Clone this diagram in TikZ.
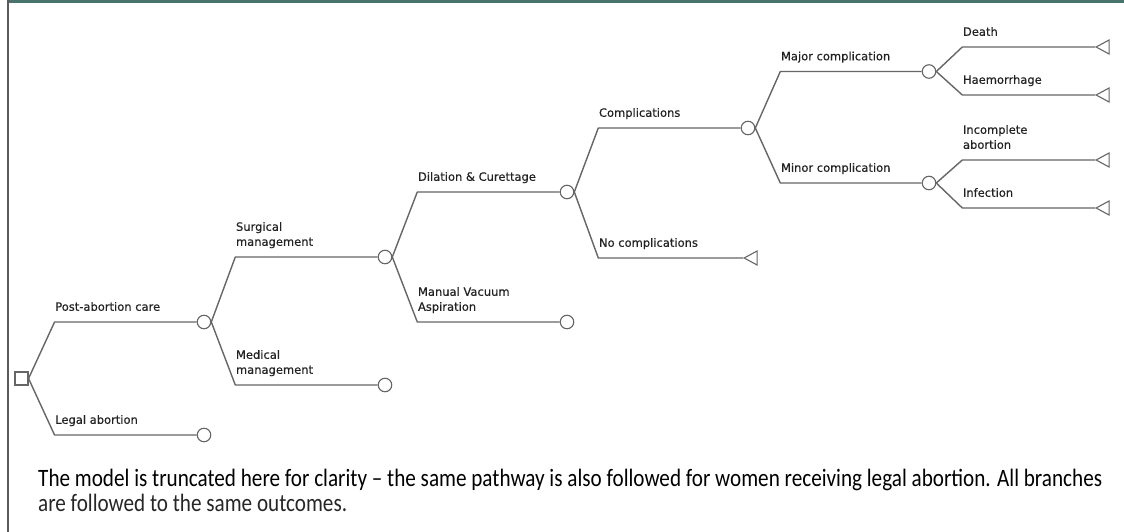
\documentclass[tikz,border=0pt]{standalone}
\usepackage{fontspec}
\setmainfont{DejaVu Sans}
\newfontfamily\capfont{Carlito}
\newfontfamily\labelfont{DejaVu Sans}[FakeBold=0.35]
\usetikzlibrary{shapes.geometric,calc}
\definecolor{linegray}{HTML}{666666}
\definecolor{labelgray}{HTML}{222222}
\definecolor{capgray}{HTML}{262626}
\definecolor{barteal}{RGB}{72,116,108}
\definecolor{framegray}{HTML}{5A5A5A}
\newsavebox\capboxA
\newcommand{\capfontsize}{\capfont\fontsize{25}{25}\selectfont}
\AtBeginDocument{%
  \sbox\capboxA{\capfontsize The model is truncated here for clarity – the same pathway is also followed for women receiving legal abortion. All branches}%
  \pgfmathsetmacro\capscale{1064/(\the\wd\capboxA)}%
  \xdef\capscale{\capscale}%
}
\tikzset{
  chance/.style={circle, draw=linegray, line width=1.1pt, fill=white, minimum size=13.5pt, inner sep=0pt},
  decision/.style={rectangle, draw=linegray, line width=1.1pt, fill=white, minimum size=13pt, inner sep=0pt},
  terminal/.style={isosceles triangle, isosceles triangle apex angle=60, isosceles triangle stretches,
    shape border rotate=180, draw=linegray, line width=1.1pt, fill=white,
    minimum width=14pt, minimum height=13pt, inner sep=0pt},
  branch/.style={draw=linegray, line width=1.4pt, line join=round},
  blabel/.style={anchor=south west, inner sep=0pt, text depth=0pt, xshift=0pt, yshift=10.5pt,
    text=labelgray, align=left, font=\labelfont\fontsize{11.5}{15}\selectfont},
  captext/.style={anchor=base west, inner sep=0pt, text=capgray}
}
\newcommand{\branchto}[4]{%
  \draw[branch] (#1.east) -- ($(#1.east |- #2)+(#3,0)$) -- node[blabel, pos=0] {#4} (#2);}
\begin{document}
\begin{tikzpicture}[x=1pt, y=-1pt]
\useasboundingbox (0,0) rectangle (1124,532);
\fill[white] (0,0) rectangle (1124,532);
% frame
\fill[barteal] (7,0) rectangle (1124,3);
\fill[framegray] (6.5,0) rectangle (8.5,532);

% nodes
\node[decision] (root) at (21.5,378.5) {};
\node[chance] (pac) at (204,322) {};
\node[chance] (legal) at (204,435) {};
\node[chance] (surg) at (385,257) {};
\node[chance] (med) at (385,385) {};
\node[chance] (dc) at (567,192) {};
\node[chance] (mva) at (567,322) {};
\node[chance] (comp) at (748,128) {};
\node[terminal, anchor=apex] (nocomp) at (743,258) {};
\node[chance] (major) at (929,71.5) {};
\node[chance] (minor) at (929,183) {};
\node[terminal, anchor=apex] (death) at (1095,47) {};
\node[terminal, anchor=apex] (haem) at (1095,95) {};
\node[terminal, anchor=apex] (incomp) at (1095,160) {};
\node[terminal, anchor=apex] (infect) at (1095,208) {};

% branches
\branchto{root}{pac}{26}{Post-abortion care}
\branchto{root}{legal}{26}{Legal abortion}
\branchto{pac}{surg}{24}{Surgical\\management}
\branchto{pac}{med}{24}{Medical\\management}
\branchto{surg}{dc}{25}{Dilation \& Curettage}
\branchto{surg}{mva}{25}{Manual Vacuum\\Aspiration}
\branchto{dc}{comp}{24}{Complications}
\branchto{dc}{nocomp}{24}{No complications}
\branchto{comp}{major}{25}{Major complication}
\branchto{comp}{minor}{25}{Minor complication}
\branchto{major}{death}{26}{Death}
\branchto{major}{haem}{26}{Haemorrhage}
\branchto{minor}{incomp}{26}{Incomplete\\abortion}
\branchto{minor}{infect}{26}{Infection}

% caption
\node[captext] (cap1) at (38,486) {\scalebox{\capscale}[1]{\usebox\capboxA}};
\node[captext] (cap2) at (38,511) {\scalebox{\capscale}[1]{\capfontsize are followed to the same outcomes.}};
\end{tikzpicture}
\end{document}
